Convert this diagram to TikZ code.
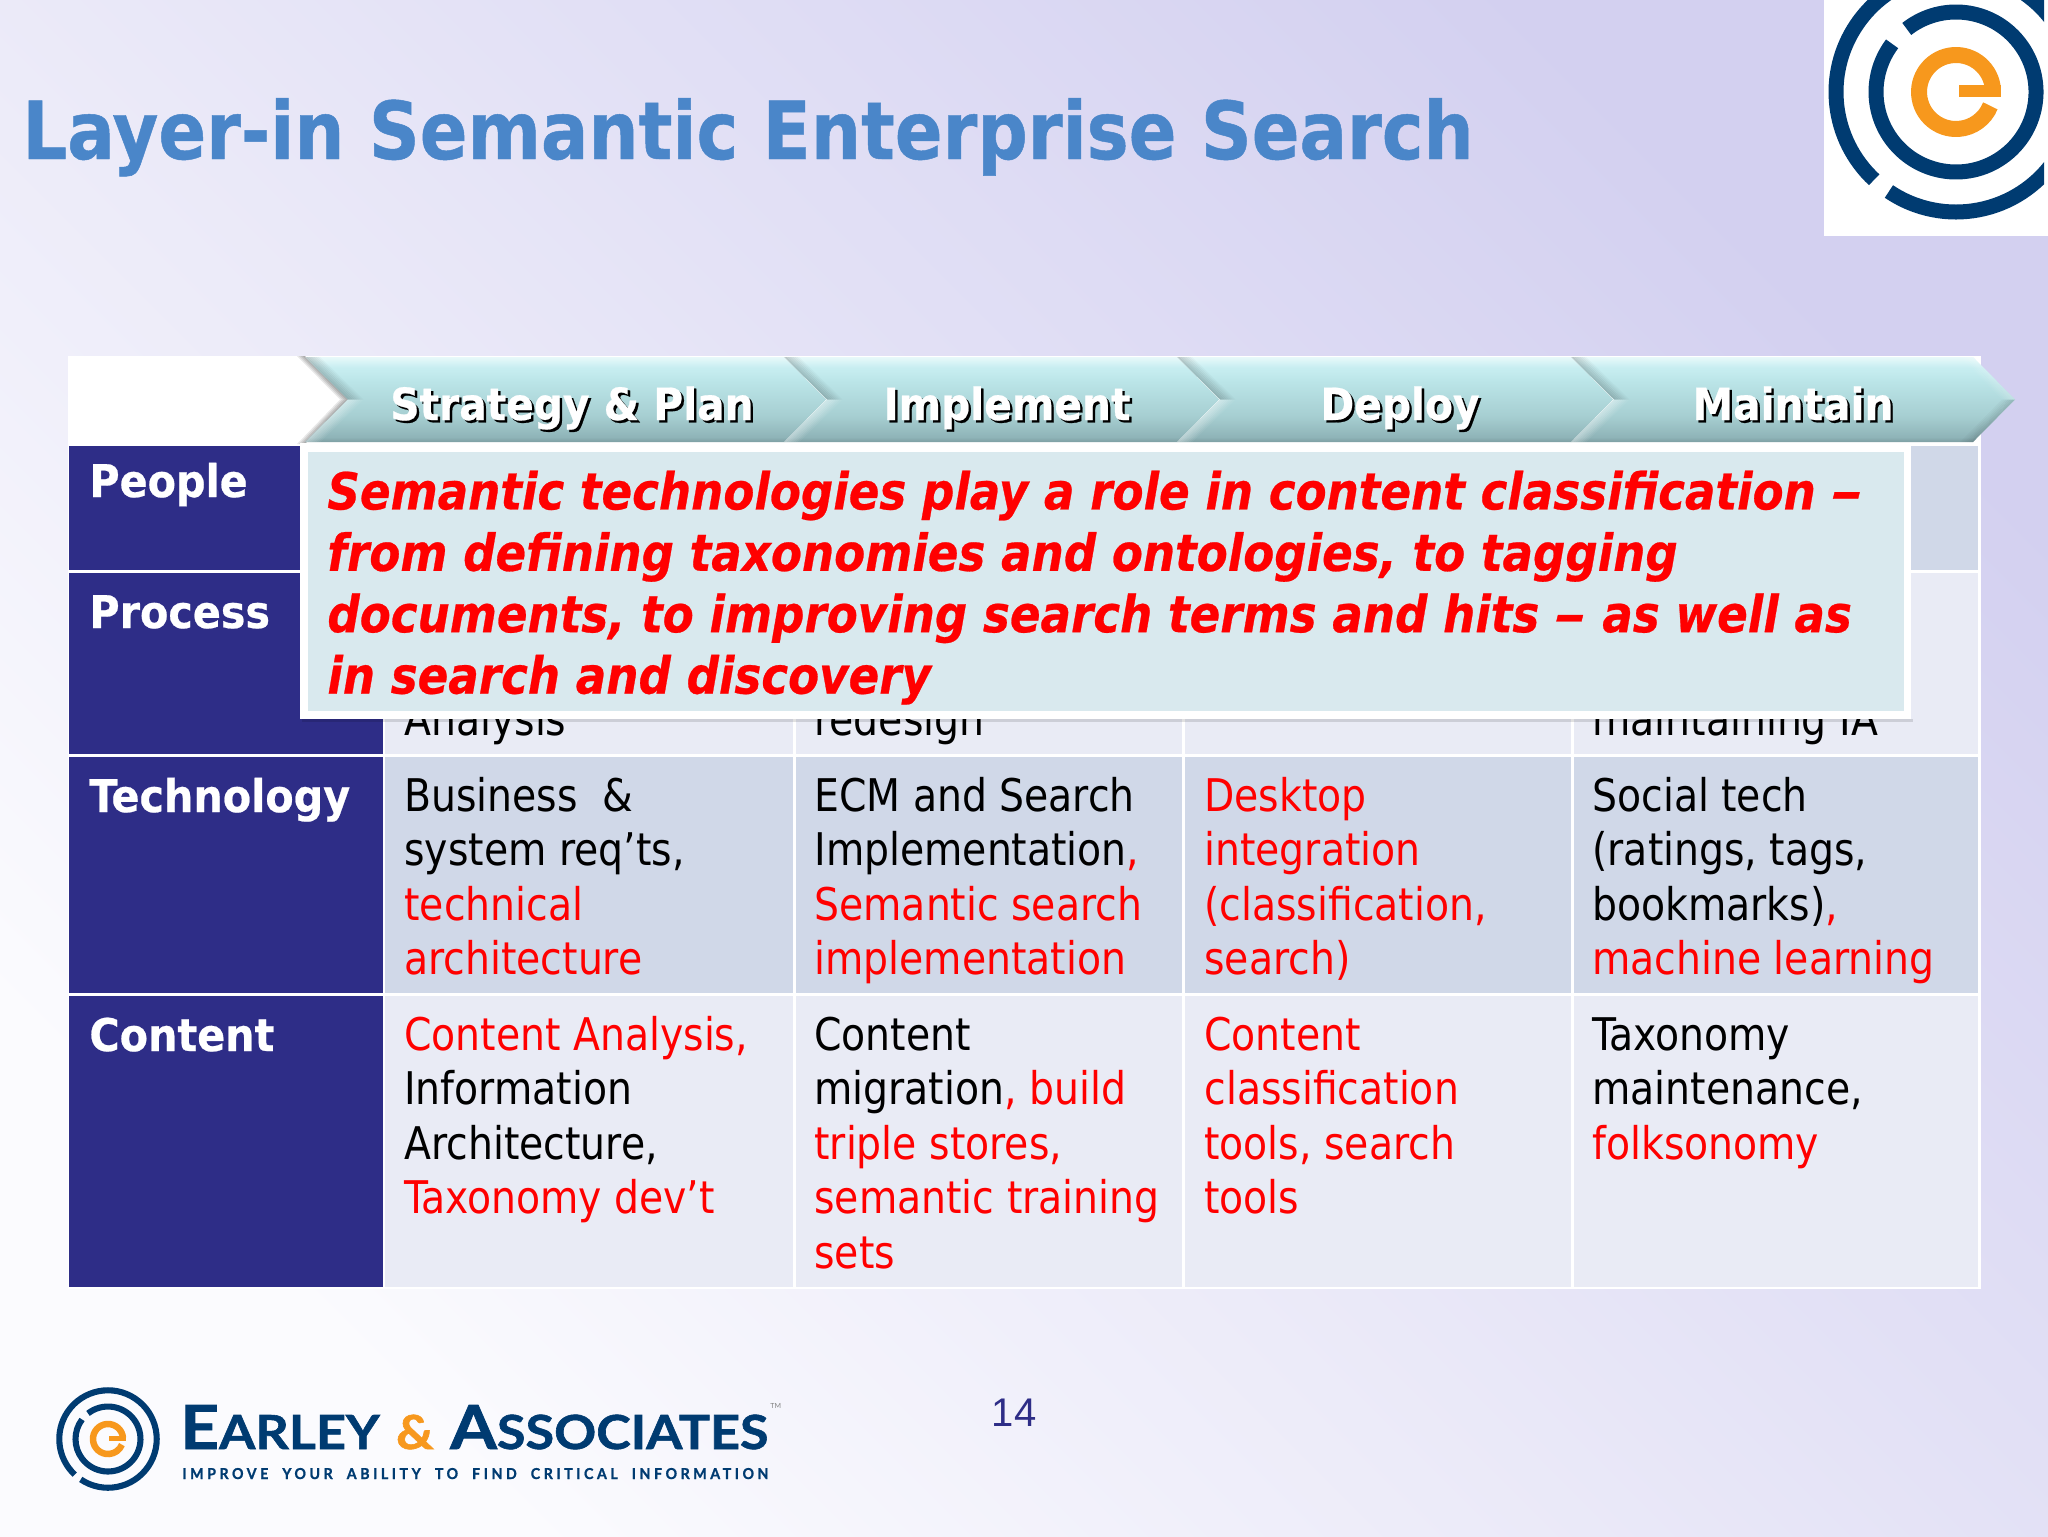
\documentclass[tikz,border=0pt]{standalone}
\usepackage{fontspec}
\setmainfont{DejaVu Sans Condensed}[FakeStretch=.972,
  BoldFeatures={FakeStretch=1.02,FakeBold=.5},
  BoldItalicFeatures={FakeStretch=.985,FakeBold=.5}]
\newfontfamily\ttlfont{DejaVu Sans Condensed Bold}[FakeStretch=.979,FakeBold=.6]
\newfontfamily\logofont{Lato}[BoldFeatures={FakeBold=1.2}]
\newfontfamily\numfont{Liberation Sans}
\definecolor{navy}{HTML}{2E2D87}
\definecolor{bandA}{HTML}{D0D8E8}
\definecolor{bandB}{HTML}{E9EBF5}
\definecolor{titleblue}{HTML}{4A86C9}
\definecolor{logoblue}{HTML}{003B71}
\definecolor{logoorange}{HTML}{F7981D}
\definecolor{panel}{HTML}{D9E9EE}
\definecolor{redtxt}{HTML}{FF0000}
\definecolor{bgA}{HTML}{FBFBFE}
\definecolor{bgB}{HTML}{D3D0F0}
\definecolor{chA}{HTML}{7D9FA3}
\definecolor{chB}{HTML}{8FB4B8}
\definecolor{chC}{HTML}{A6CED1}
\definecolor{chD}{HTML}{BAE4E7}
\definecolor{chE}{HTML}{C8EEF1}
\definecolor{chF}{HTML}{E8F9FA}
\pgfdeclareverticalshading{chevsh}{100bp}{
  color(0bp)=(chA);
  color(25bp)=(chA);
  color(28bp)=(chB);
  color(40bp)=(chC);
  color(60bp)=(chD);
  color(69bp)=(chE);
  color(75bp)=(chF);
  color(100bp)=(chF)}
\newcommand\rd[1]{\textcolor{redtxt}{#1}}
\newcommand\shtext[1]{\leavevmode\rlap{\kern1.2pt\raisebox{-1.2pt}{\textcolor{black}{#1}}}\textcolor{white}{#1}}
\newcommand\elogo[3]{%
  \begin{scope}[shift={(#1,#2)},x=#3*0.5pt,y=#3*0.5pt]
    \draw[logoblue,line width=#3*7.5pt] (236:120) arc[start angle=236,end angle=587,radius=120];
    \draw[logoblue,line width=#3*7.5pt] (128:80) arc[start angle=128,end angle=-217,radius=80];
    \draw[logoorange,line width=#3*8pt] (4:37) arc[start angle=4,end angle=338,radius=37];
    \fill[logoorange] (3,7) rectangle (45,-5);
  \end{scope}}
\newcommand\chev[2]{% start x, next start x
  \shade[shading=chevsh]
    (#1,357) -- (#2,357) -- (#2+42,399.5) -- (#2,442) -- (#1,442) -- (#1+43,399.5) -- cycle;
  \foreach \k in {0,...,6}{
    \fill[black,opacity={.05*(7-\k)/2}] (#1+\k*2.2,357) -- (#1+43+\k*2.2,399.5) -- (#1+45.2+\k*2.2,399.5) -- (#1+2.2+\k*2.2,357) -- cycle;
    \fill[white,opacity={.11*(7-\k)/2}] (#1+\k*2.2,442) -- (#1+43+\k*2.2,399.5) -- (#1+45.2+\k*2.2,399.5) -- (#1+2.2+\k*2.2,442) -- cycle;
  }
}
\tikzset{
  celltext/.style={anchor=north west,inner sep=0pt,align=left,text=black,
    font=\fontsize{22.5}{27.2}\selectfont},
  rowlabel/.style={anchor=base west,inner sep=0pt,text=white,
    font=\fontsize{22.5}{27.2}\selectfont\bfseries},
  chevlabel/.style={anchor=base,inner sep=0pt,font=\fontsize{22.2}{27}\selectfont\bfseries},
  panellines/.style={anchor=north west,inner sep=0pt,align=left,text=redtxt,
    font=\fontsize{25.5}{30.7}\selectfont\bfseries\itshape},
  bare/.style={inner sep=0pt,anchor=base west},
}
\begin{document}
\begin{tikzpicture}[x=0.5pt,y=-0.5pt]
\useasboundingbox (0,0) rectangle (2048,1536);
\shade[bottom color=bgA,top color=bgB,shading angle=-45] (0,0) rectangle (2048,1536);

% title
\node[bare,text=titleblue,font=\ttlfont\fontsize{40}{48}\selectfont] (title) at (22,159) {Layer-in Semantic Enterprise Search};

% top logo
\fill[white] (1824,0) rectangle (2048,236);
\begin{scope}
  \clip (1824,0) rectangle (2044,236);
  \elogo{1956}{92}{1}
\end{scope}

% table
\fill[white] (68,356) rectangle (1981,1289);
\fill[navy] (69,446) rectangle (383,570);
\fill[navy] (69,573) rectangle (383,754);
\fill[navy] (69,757) rectangle (383,993);
\fill[navy] (69,996) rectangle (383,1287);
\foreach \xa/\xb in {385/793,796/1182,1185/1571,1574/1978}{
  \fill[bandA] (\xa,446) rectangle (\xb,570);
  \fill[bandB] (\xa,573) rectangle (\xb,754);
  \fill[bandA] (\xa,757) rectangle (\xb,993);
  \fill[bandB] (\xa,996) rectangle (\xb,1287);
}
\node[rowlabel] (lpeople) at (89,497) {People};
\node[rowlabel] (lprocess) at (89,628) {Process};
\node[rowlabel] (ltech) at (89,812) {Technology};
\node[rowlabel] (lcontent) at (89,1051) {Content};

\node[bare,font=\fontsize{22.5}{27.2}\selectfont] (p1) at (404,735) {Analysis};
\node[bare,font=\fontsize{22.5}{27.2}\selectfont] (p2) at (814,735) {redesign};
\node[bare,font=\fontsize{22.5}{27.2}\selectfont] (p4) at (1592,735) {maintaining IA};

\node[celltext] (t1) at (404,771) {\rule{0pt}{20pt}Business\ \ \&\\system req’ts,\\\rd{technical}\\\rd{architecture}};
\node[celltext] (t2) at (814,771) {\rule{0pt}{20pt}ECM and Search\\Implementation\rd{,}\\\rd{Semantic search}\\\rd{implementation}};
\node[celltext] (t3) at (1204,771) {\rule{0pt}{20pt}\rd{Desktop}\\\rd{integration}\\\rd{(classification,}\\\rd{search)}};
\node[celltext] (t4) at (1592,771) {\rule{0pt}{20pt}Social tech\\(ratings, tags,\\bookmarks)\rd{,}\\\rd{machine learning}};
\node[celltext] (c1) at (404,1010) {\rule{0pt}{20pt}\rd{Content Analysis,}\\Information\\Architecture,\\\rd{Taxonomy dev’t}};
\node[celltext] (c2) at (814,1010) {\rule{0pt}{20pt}Content\\migration\rd{, build}\\\rd{triple stores,}\\\rd{semantic training}\\\rd{sets}};
\node[celltext] (c3) at (1204,1010) {\rule{0pt}{20pt}\rd{Content}\\\rd{classification}\\\rd{tools, search}\\\rd{tools}};
\node[celltext] (c4) at (1592,1010) {\rule{0pt}{20pt}Taxonomy\\maintenance,\\\rd{folksonomy}};

% chevrons
\foreach \k in {1,...,4}{
  \fill[black,opacity=.09] (305-\k*2,356) -- (348-\k*2,399.5) -- (305-\k*2,444) -- (305,444) -- (348,399.5) -- (305,356) -- cycle;
}
\chev{305}{784}
\chev{784}{1177}
\chev{1177}{1571}
\chev{1571}{1973}
\foreach \k in {0,...,5}{
  \fill[black,opacity={.045*(6-\k)/2}] (2015-\k*2.2,399.5) -- (1973-\k*2.2,442) -- (1971-\k*2.2,442) -- (2012.8-\k*2.2,399.5) -- cycle;
  \fill[white,opacity={.07*(6-\k)/2}] (2015-\k*2.2,399.5) -- (1973-\k*2.2,357) -- (1971-\k*2.2,357) -- (2012.8-\k*2.2,399.5) -- cycle;
}
\node[chevlabel] (s1) at (572,420) {\shtext{Strategy \& Plan}};
\node[chevlabel] (s2) at (1007,420) {\shtext{Implement}};
\node[chevlabel] (s3) at (1400,420) {\shtext{Deploy}};
\node[chevlabel] (s4) at (1793,420) {\shtext{Maintain}};

% overlay panel
\fill[black,opacity=.12] (302,719) rectangle (1913,722);
\fill[white] (300,443) rectangle (1911,719);
\fill[panel] (308,452) rectangle (1904,711);
\node[panellines] (panel) at (327,464) {\rule{0pt}{22.5pt}Semantic technologies play a role in content classification \scalebox{1.4}[1]{–}\\from defining taxonomies and ontologies, to tagging\\documents, to improving search terms and hits \scalebox{1.4}[1]{–} as well as\\in search and discovery};

% footer logo
\elogo{108}{1439}{0.406}
\node[bare,text=logoblue,font=\logofont\bfseries] (brand) at (180,1449) {\resizebox{294pt}{22pt}{\fontsize{22}{24}\selectfont E{\fontsize{17}{20}\selectfont ARLEY} \textcolor{logoorange}{\fontsize{17}{20}\selectfont\&} A{\fontsize{17}{20}\selectfont SSOCIATES}}};
\node[bare,text=logoblue,font=\logofont\bfseries] (tagline) at (182,1479) {\resizebox{293pt}{5.5pt}{\addfontfeature{LetterSpace=25}IMPROVE\ \ YOUR\ \ ABILITY\ \ TO\ \ FIND\ \ CRITICAL\ \ INFORMATION}};
\node[bare,text=gray,font=\logofont\fontsize{3.5}{4}\selectfont] (tm) at (770,1408) {TM};
\node[anchor=base,inner sep=0pt,text=navy,font=\numfont\fontsize{20}{24}\selectfont] (pg) at (1014,1426) {14};
\end{tikzpicture}
\end{document}
